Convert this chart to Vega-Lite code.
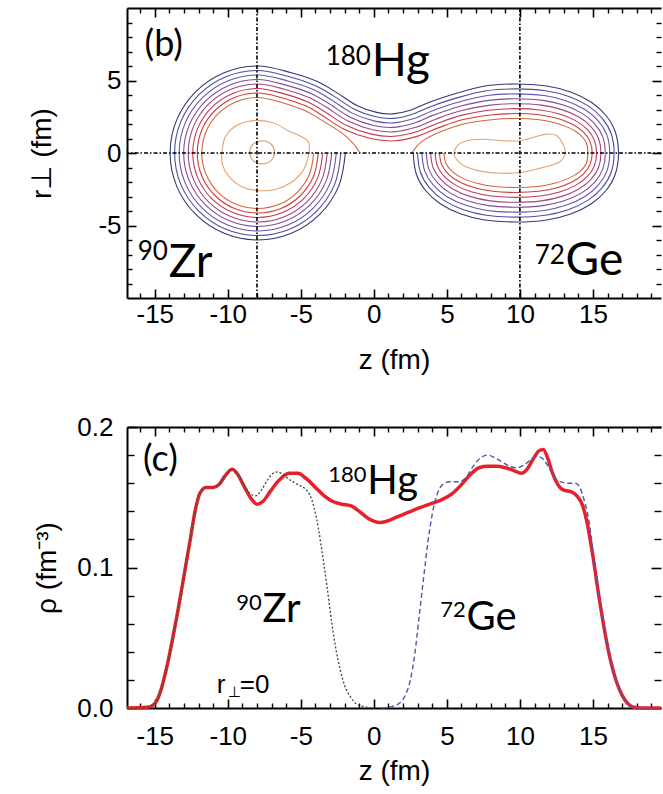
{
"$schema": "https://vega.github.io/schema/vega-lite/v6.json",
"padding": {"left": 28, "top": 7, "right": 2, "bottom": 2},
"bounds": "flush",
"spacing": 129,
"config": {"view": {"stroke": null}},
"datasets": {
"contours": [
{"id":"c0","k":0,"z":-1.95,"r":0},{"id":"c0","k":0,"z":-2.41,"r":-2.30},{"id":"c0","k":0,"z":-3.71,"r":-4.24},{"id":"c0","k":0,"z":-5.65,"r":-5.54},{"id":"c0","k":0,"z":-7.95,"r":-6.0},{"id":"c0","k":0,"z":-10.25,"r":-5.54},{"id":"c0","k":0,"z":-12.19,"r":-4.24},{"id":"c0","k":0,"z":-13.49,"r":-2.30},{"id":"c0","k":0,"z":-13.95,"r":0},
{"id":"c0","k":0,"z":-13.49,"r":2.30},{"id":"c0","k":0,"z":-12.19,"r":4.24},{"id":"c0","k":0,"z":-10.25,"r":5.54},{"id":"c0","k":0,"z":-7.95,"r":6.0},{"id":"c0","k":0,"z":-5.65,"r":5.54},
{"id":"c0","k":0,"z":-3.9,"r":4.95},{"id":"c0","k":0,"z":-2.6,"r":4.2},{"id":"c0","k":0,"z":-1.2,"r":3.3},{"id":"c0","k":0,"z":0.2,"r":2.8},{"id":"c0","k":0,"z":1.3,"r":2.7},{"id":"c0","k":0,"z":2.5,"r":2.95},{"id":"c0","k":0,"z":3.8,"r":3.5},{"id":"c0","k":0,"z":5.6,"r":4.1},
{"id":"c0","k":0,"z":7.60,"r":4.62},{"id":"c0","k":0,"z":9.72,"r":4.76},{"id":"c0","k":0,"z":11.84,"r":4.62},{"id":"c0","k":0,"z":13.52,"r":4.19},{"id":"c0","k":0,"z":14.89,"r":3.50},{"id":"c0","k":0,"z":15.91,"r":2.57},{"id":"c0","k":0,"z":16.54,"r":1.43},{"id":"c0","k":0,"z":16.75,"r":0},
{"id":"c0","k":0,"z":16.54,"r":-1.43},{"id":"c0","k":0,"z":15.91,"r":-2.57},{"id":"c0","k":0,"z":14.89,"r":-3.50},{"id":"c0","k":0,"z":13.52,"r":-4.19},{"id":"c0","k":0,"z":11.84,"r":-4.62},{"id":"c0","k":0,"z":9.72,"r":-4.76},{"id":"c0","k":0,"z":7.60,"r":-4.62},{"id":"c0","k":0,"z":5.92,"r":-4.19},{"id":"c0","k":0,"z":4.55,"r":-3.50},{"id":"c0","k":0,"z":3.53,"r":-2.57},{"id":"c0","k":0,"z":2.90,"r":-1.43},{"id":"c0","k":0,"z":2.69,"r":0},

{"id":"c1","k":1,"z":-2.26,"r":0},{"id":"c1","k":1,"z":-2.69,"r":-2.18},{"id":"c1","k":1,"z":-3.93,"r":-4.02},{"id":"c1","k":1,"z":-5.77,"r":-5.26},{"id":"c1","k":1,"z":-7.95,"r":-5.69},{"id":"c1","k":1,"z":-10.13,"r":-5.26},{"id":"c1","k":1,"z":-11.97,"r":-4.02},{"id":"c1","k":1,"z":-13.21,"r":-2.18},{"id":"c1","k":1,"z":-13.64,"r":0},
{"id":"c1","k":1,"z":-13.21,"r":2.18},{"id":"c1","k":1,"z":-11.97,"r":4.02},{"id":"c1","k":1,"z":-10.13,"r":5.26},{"id":"c1","k":1,"z":-7.95,"r":5.69},{"id":"c1","k":1,"z":-5.77,"r":5.26},
{"id":"c1","k":1,"z":-4.02,"r":4.66},{"id":"c1","k":1,"z":-2.76,"r":3.94},{"id":"c1","k":1,"z":-1.34,"r":3.02},{"id":"c1","k":1,"z":0.13,"r":2.50},{"id":"c1","k":1,"z":1.32,"r":2.39},{"id":"c1","k":1,"z":2.59,"r":2.66},{"id":"c1","k":1,"z":3.91,"r":3.21},{"id":"c1","k":1,"z":5.69,"r":3.80},
{"id":"c1","k":1,"z":7.69,"r":4.29},{"id":"c1","k":1,"z":9.72,"r":4.42},{"id":"c1","k":1,"z":11.75,"r":4.29},{"id":"c1","k":1,"z":13.35,"r":3.89},{"id":"c1","k":1,"z":14.67,"r":3.25},{"id":"c1","k":1,"z":15.64,"r":2.39},{"id":"c1","k":1,"z":16.25,"r":1.33},{"id":"c1","k":1,"z":16.45,"r":0},
{"id":"c1","k":1,"z":16.25,"r":-1.33},{"id":"c1","k":1,"z":15.64,"r":-2.39},{"id":"c1","k":1,"z":14.67,"r":-3.25},{"id":"c1","k":1,"z":13.35,"r":-3.89},{"id":"c1","k":1,"z":11.75,"r":-4.29},{"id":"c1","k":1,"z":9.72,"r":-4.42},{"id":"c1","k":1,"z":7.69,"r":-4.29},{"id":"c1","k":1,"z":6.09,"r":-3.89},{"id":"c1","k":1,"z":4.77,"r":-3.25},{"id":"c1","k":1,"z":3.80,"r":-2.39},{"id":"c1","k":1,"z":3.19,"r":-1.33},{"id":"c1","k":1,"z":2.99,"r":0},

{"id":"c2","k":2,"z":-2.57,"r":0},{"id":"c2","k":2,"z":-2.98,"r":-2.06},{"id":"c2","k":2,"z":-4.15,"r":-3.80},{"id":"c2","k":2,"z":-5.89,"r":-4.97},{"id":"c2","k":2,"z":-7.95,"r":-5.38},{"id":"c2","k":2,"z":-10.01,"r":-4.97},{"id":"c2","k":2,"z":-11.75,"r":-3.80},{"id":"c2","k":2,"z":-12.92,"r":-2.06},{"id":"c2","k":2,"z":-13.33,"r":0},
{"id":"c2","k":2,"z":-12.92,"r":2.06},{"id":"c2","k":2,"z":-11.75,"r":3.80},{"id":"c2","k":2,"z":-10.01,"r":4.97},{"id":"c2","k":2,"z":-7.95,"r":5.38},{"id":"c2","k":2,"z":-5.89,"r":4.97},
{"id":"c2","k":2,"z":-4.15,"r":4.38},{"id":"c2","k":2,"z":-2.92,"r":3.67},{"id":"c2","k":2,"z":-1.48,"r":2.75},{"id":"c2","k":2,"z":0.06,"r":2.20},{"id":"c2","k":2,"z":1.34,"r":2.08},{"id":"c2","k":2,"z":2.69,"r":2.36},{"id":"c2","k":2,"z":4.02,"r":2.92},{"id":"c2","k":2,"z":5.77,"r":3.50},
{"id":"c2","k":2,"z":7.78,"r":3.96},{"id":"c2","k":2,"z":9.72,"r":4.08},{"id":"c2","k":2,"z":11.66,"r":3.96},{"id":"c2","k":2,"z":13.19,"r":3.59},{"id":"c2","k":2,"z":14.45,"r":3.00},{"id":"c2","k":2,"z":15.38,"r":2.20},{"id":"c2","k":2,"z":15.96,"r":1.23},{"id":"c2","k":2,"z":16.15,"r":0},
{"id":"c2","k":2,"z":15.96,"r":-1.23},{"id":"c2","k":2,"z":15.38,"r":-2.20},{"id":"c2","k":2,"z":14.45,"r":-3.00},{"id":"c2","k":2,"z":13.19,"r":-3.59},{"id":"c2","k":2,"z":11.66,"r":-3.96},{"id":"c2","k":2,"z":9.72,"r":-4.08},{"id":"c2","k":2,"z":7.78,"r":-3.96},{"id":"c2","k":2,"z":6.25,"r":-3.59},{"id":"c2","k":2,"z":4.99,"r":-3.00},{"id":"c2","k":2,"z":4.06,"r":-2.20},{"id":"c2","k":2,"z":3.48,"r":-1.23},{"id":"c2","k":2,"z":3.29,"r":0},

{"id":"c3","k":3,"z":-2.88,"r":0},{"id":"c3","k":3,"z":-3.27,"r":-1.94},{"id":"c3","k":3,"z":-4.37,"r":-3.58},{"id":"c3","k":3,"z":-6.01,"r":-4.68},{"id":"c3","k":3,"z":-7.95,"r":-5.07},{"id":"c3","k":3,"z":-9.89,"r":-4.68},{"id":"c3","k":3,"z":-11.53,"r":-3.58},{"id":"c3","k":3,"z":-12.63,"r":-1.94},{"id":"c3","k":3,"z":-13.02,"r":0},
{"id":"c3","k":3,"z":-12.63,"r":1.94},{"id":"c3","k":3,"z":-11.53,"r":3.58},{"id":"c3","k":3,"z":-9.89,"r":4.68},{"id":"c3","k":3,"z":-7.95,"r":5.07},{"id":"c3","k":3,"z":-6.01,"r":4.68},
{"id":"c3","k":3,"z":-4.27,"r":4.09},{"id":"c3","k":3,"z":-3.08,"r":3.41},{"id":"c3","k":3,"z":-1.62,"r":2.47},{"id":"c3","k":3,"z":-0.01,"r":1.90},{"id":"c3","k":3,"z":1.36,"r":1.77},{"id":"c3","k":3,"z":2.78,"r":2.07},{"id":"c3","k":3,"z":4.13,"r":2.63},{"id":"c3","k":3,"z":5.86,"r":3.21},
{"id":"c3","k":3,"z":7.87,"r":3.63},{"id":"c3","k":3,"z":9.72,"r":3.74},{"id":"c3","k":3,"z":11.57,"r":3.63},{"id":"c3","k":3,"z":13.03,"r":3.29},{"id":"c3","k":3,"z":14.23,"r":2.75},{"id":"c3","k":3,"z":15.11,"r":2.02},{"id":"c3","k":3,"z":15.67,"r":1.13},{"id":"c3","k":3,"z":15.85,"r":0},
{"id":"c3","k":3,"z":15.67,"r":-1.13},{"id":"c3","k":3,"z":15.11,"r":-2.02},{"id":"c3","k":3,"z":14.23,"r":-2.75},{"id":"c3","k":3,"z":13.03,"r":-3.29},{"id":"c3","k":3,"z":11.57,"r":-3.63},{"id":"c3","k":3,"z":9.72,"r":-3.74},{"id":"c3","k":3,"z":7.87,"r":-3.63},{"id":"c3","k":3,"z":6.41,"r":-3.29},{"id":"c3","k":3,"z":5.21,"r":-2.75},{"id":"c3","k":3,"z":4.33,"r":-2.02},{"id":"c3","k":3,"z":3.77,"r":-1.13},{"id":"c3","k":3,"z":3.59,"r":0},

{"id":"c4","k":4,"z":-3.19,"r":0},{"id":"c4","k":4,"z":-3.55,"r":-1.82},{"id":"c4","k":4,"z":-4.58,"r":-3.37},{"id":"c4","k":4,"z":-6.13,"r":-4.40},{"id":"c4","k":4,"z":-7.95,"r":-4.76},{"id":"c4","k":4,"z":-9.77,"r":-4.40},{"id":"c4","k":4,"z":-11.32,"r":-3.37},{"id":"c4","k":4,"z":-12.35,"r":-1.82},{"id":"c4","k":4,"z":-12.71,"r":0},
{"id":"c4","k":4,"z":-12.35,"r":1.82},{"id":"c4","k":4,"z":-11.32,"r":3.37},{"id":"c4","k":4,"z":-9.77,"r":4.40},{"id":"c4","k":4,"z":-7.95,"r":4.76},{"id":"c4","k":4,"z":-6.13,"r":4.40},
{"id":"c4","k":4,"z":-4.40,"r":3.81},{"id":"c4","k":4,"z":-3.24,"r":3.15},{"id":"c4","k":4,"z":-1.76,"r":2.20},{"id":"c4","k":4,"z":-0.09,"r":1.60},{"id":"c4","k":4,"z":1.38,"r":1.46},{"id":"c4","k":4,"z":2.87,"r":1.77},{"id":"c4","k":4,"z":4.23,"r":2.33},{"id":"c4","k":4,"z":5.95,"r":2.91},
{"id":"c4","k":4,"z":7.97,"r":3.30},{"id":"c4","k":4,"z":9.72,"r":3.40},{"id":"c4","k":4,"z":11.47,"r":3.30},{"id":"c4","k":4,"z":12.87,"r":2.99},{"id":"c4","k":4,"z":14.01,"r":2.50},{"id":"c4","k":4,"z":14.85,"r":1.84},{"id":"c4","k":4,"z":15.38,"r":1.02},{"id":"c4","k":4,"z":15.55,"r":0},
{"id":"c4","k":4,"z":15.38,"r":-1.02},{"id":"c4","k":4,"z":14.85,"r":-1.84},{"id":"c4","k":4,"z":14.01,"r":-2.50},{"id":"c4","k":4,"z":12.87,"r":-2.99},{"id":"c4","k":4,"z":11.47,"r":-3.30},{"id":"c4","k":4,"z":9.72,"r":-3.40},{"id":"c4","k":4,"z":7.97,"r":-3.30},{"id":"c4","k":4,"z":6.57,"r":-2.99},{"id":"c4","k":4,"z":5.43,"r":-2.50},{"id":"c4","k":4,"z":4.59,"r":-1.84},{"id":"c4","k":4,"z":4.06,"r":-1.02},{"id":"c4","k":4,"z":3.89,"r":0},

{"id":"c5","k":5,"z":-3.50,"r":0},{"id":"c5","k":5,"z":-3.84,"r":-1.70},{"id":"c5","k":5,"z":-4.80,"r":-3.15},{"id":"c5","k":5,"z":-6.25,"r":-4.11},{"id":"c5","k":5,"z":-7.95,"r":-4.45},{"id":"c5","k":5,"z":-9.65,"r":-4.11},{"id":"c5","k":5,"z":-11.10,"r":-3.15},{"id":"c5","k":5,"z":-12.06,"r":-1.70},{"id":"c5","k":5,"z":-12.40,"r":0},
{"id":"c5","k":5,"z":-12.06,"r":1.70},{"id":"c5","k":5,"z":-11.10,"r":3.15},{"id":"c5","k":5,"z":-9.65,"r":4.11},{"id":"c5","k":5,"z":-7.95,"r":4.45},{"id":"c5","k":5,"z":-6.25,"r":4.11},
{"id":"c5","k":5,"z":-4.52,"r":3.52},{"id":"c5","k":5,"z":-3.41,"r":2.88},{"id":"c5","k":5,"z":-1.90,"r":1.92},{"id":"c5","k":5,"z":-0.16,"r":1.30},{"id":"c5","k":5,"z":1.40,"r":1.15},{"id":"c5","k":5,"z":2.97,"r":1.48},{"id":"c5","k":5,"z":4.34,"r":2.04},{"id":"c5","k":5,"z":6.03,"r":2.61},
{"id":"c5","k":5,"z":8.06,"r":2.97},{"id":"c5","k":5,"z":9.72,"r":3.06},{"id":"c5","k":5,"z":11.38,"r":2.97},{"id":"c5","k":5,"z":12.71,"r":2.69},{"id":"c5","k":5,"z":13.78,"r":2.25},{"id":"c5","k":5,"z":14.59,"r":1.65},{"id":"c5","k":5,"z":15.08,"r":0.92},{"id":"c5","k":5,"z":15.25,"r":0},
{"id":"c5","k":5,"z":15.08,"r":-0.92},{"id":"c5","k":5,"z":14.59,"r":-1.65},{"id":"c5","k":5,"z":13.78,"r":-2.25},{"id":"c5","k":5,"z":12.71,"r":-2.69},{"id":"c5","k":5,"z":11.38,"r":-2.97},{"id":"c5","k":5,"z":9.72,"r":-3.06},{"id":"c5","k":5,"z":8.06,"r":-2.97},{"id":"c5","k":5,"z":6.73,"r":-2.69},{"id":"c5","k":5,"z":5.66,"r":-2.25},{"id":"c5","k":5,"z":4.85,"r":-1.65},{"id":"c5","k":5,"z":4.36,"r":-0.92},{"id":"c5","k":5,"z":4.19,"r":0},

{"id":"c6","k":6,"z":-3.81,"r":0},{"id":"c6","k":6,"z":-4.12,"r":-1.59},{"id":"c6","k":6,"z":-5.02,"r":-2.93},{"id":"c6","k":6,"z":-6.36,"r":-3.83},{"id":"c6","k":6,"z":-7.95,"r":-4.14},{"id":"c6","k":6,"z":-9.54,"r":-3.83},{"id":"c6","k":6,"z":-10.88,"r":-2.93},{"id":"c6","k":6,"z":-11.78,"r":-1.59},{"id":"c6","k":6,"z":-12.09,"r":0},
{"id":"c6","k":6,"z":-11.78,"r":1.59},{"id":"c6","k":6,"z":-10.88,"r":2.93},{"id":"c6","k":6,"z":-9.54,"r":3.83},{"id":"c6","k":6,"z":-7.95,"r":4.14},{"id":"c6","k":6,"z":-6.36,"r":3.83},
{"id":"c6","k":6,"z":-4.64,"r":3.24},{"id":"c6","k":6,"z":-3.57,"r":2.62},{"id":"c6","k":6,"z":-2.04,"r":1.64},{"id":"c6","k":6,"z":-0.23,"r":1.00},{"id":"c6","k":6,"z":1.42,"r":0.84},{"id":"c6","k":6,"z":3.06,"r":1.18},{"id":"c6","k":6,"z":4.45,"r":1.75},{"id":"c6","k":6,"z":6.12,"r":2.31},
{"id":"c6","k":6,"z":8.15,"r":2.64},{"id":"c6","k":6,"z":9.72,"r":2.72},{"id":"c6","k":6,"z":11.29,"r":2.64},{"id":"c6","k":6,"z":12.54,"r":2.39},{"id":"c6","k":6,"z":13.56,"r":2.00},{"id":"c6","k":6,"z":14.32,"r":1.47},{"id":"c6","k":6,"z":14.79,"r":0.82},{"id":"c6","k":6,"z":14.95,"r":0},
{"id":"c6","k":6,"z":14.79,"r":-0.82},{"id":"c6","k":6,"z":14.32,"r":-1.47},{"id":"c6","k":6,"z":13.56,"r":-2.00},{"id":"c6","k":6,"z":12.54,"r":-2.39},{"id":"c6","k":6,"z":11.29,"r":-2.64},{"id":"c6","k":6,"z":9.72,"r":-2.72},{"id":"c6","k":6,"z":8.15,"r":-2.64},{"id":"c6","k":6,"z":6.90,"r":-2.39},{"id":"c6","k":6,"z":5.88,"r":-2.00},{"id":"c6","k":6,"z":5.12,"r":-1.47},{"id":"c6","k":6,"z":4.65,"r":-0.82},{"id":"c6","k":6,"z":4.49,"r":0},

{"id":"c7a","k":7,"z":-4.12,"r":0},{"id":"c7a","k":7,"z":-4.41,"r":-1.47},{"id":"c7a","k":7,"z":-5.24,"r":-2.71},{"id":"c7a","k":7,"z":-6.48,"r":-3.54},{"id":"c7a","k":7,"z":-7.95,"r":-3.83},{"id":"c7a","k":7,"z":-9.42,"r":-3.54},{"id":"c7a","k":7,"z":-10.66,"r":-2.71},{"id":"c7a","k":7,"z":-11.49,"r":-1.47},{"id":"c7a","k":7,"z":-11.78,"r":0},
{"id":"c7a","k":7,"z":-11.49,"r":1.47},{"id":"c7a","k":7,"z":-10.66,"r":2.71},{"id":"c7a","k":7,"z":-9.42,"r":3.54},{"id":"c7a","k":7,"z":-7.95,"r":3.83},{"id":"c7a","k":7,"z":-6.48,"r":3.54},
{"id":"c7a","k":7,"z":-4.77,"r":2.95},{"id":"c7a","k":7,"z":-3.73,"r":2.36},{"id":"c7a","k":7,"z":-2.18,"r":1.37},{"id":"c7a","k":7,"z":-1.45,"r":0.7},{"id":"c7a","k":7,"z":-0.95,"r":0},

{"id":"c7b","k":7,"z":2.6,"r":0},{"id":"c7b","k":7,"z":3.3,"r":0.8},{"id":"c7b","k":7,"z":4.56,"r":1.46},{"id":"c7b","k":7,"z":6.21,"r":2.02},{"id":"c7b","k":7,"z":8.24,"r":2.31},{"id":"c7b","k":7,"z":9.72,"r":2.38},{"id":"c7b","k":7,"z":11.20,"r":2.31},{"id":"c7b","k":7,"z":12.38,"r":2.09},{"id":"c7b","k":7,"z":13.34,"r":1.75},{"id":"c7b","k":7,"z":14.10,"r":1.29},{"id":"c7b","k":7,"z":14.54,"r":0.72},{"id":"c7b","k":7,"z":14.65,"r":0},
{"id":"c7b","k":7,"z":14.54,"r":-0.72},{"id":"c7b","k":7,"z":14.10,"r":-1.29},{"id":"c7b","k":7,"z":13.34,"r":-1.75},{"id":"c7b","k":7,"z":12.38,"r":-2.09},{"id":"c7b","k":7,"z":11.20,"r":-2.31},{"id":"c7b","k":7,"z":9.72,"r":-2.38},{"id":"c7b","k":7,"z":8.24,"r":-2.31},{"id":"c7b","k":7,"z":7.06,"r":-2.09},{"id":"c7b","k":7,"z":6.10,"r":-1.75},{"id":"c7b","k":7,"z":5.38,"r":-1.29},{"id":"c7b","k":7,"z":4.94,"r":-0.72},{"id":"c7b","k":7,"z":4.79,"r":0}
],
"loops": [
{"id":"oz","k":8,"z":-10.4,"r":0},{"id":"oz","k":8,"z":-10.15,"r":1.15},{"id":"oz","k":8,"z":-9.3,"r":1.95},{"id":"oz","k":8,"z":-8.0,"r":2.25},{"id":"oz","k":8,"z":-6.8,"r":2.05},{"id":"oz","k":8,"z":-5.9,"r":1.55},{"id":"oz","k":8,"z":-5.0,"r":1.15},{"id":"oz","k":8,"z":-4.45,"r":0.7},{"id":"oz","k":8,"z":-4.5,"r":-0.3},{"id":"oz","k":8,"z":-4.9,"r":-1.3},{"id":"oz","k":8,"z":-5.7,"r":-2.05},{"id":"oz","k":8,"z":-6.7,"r":-2.5},{"id":"oz","k":8,"z":-7.8,"r":-2.6},{"id":"oz","k":8,"z":-9.0,"r":-2.35},{"id":"oz","k":8,"z":-9.9,"r":-1.65},{"id":"oz","k":8,"z":-10.35,"r":-0.85},
{"id":"og","k":8,"z":5.5,"r":-0.1},{"id":"og","k":8,"z":5.75,"r":0.55},{"id":"og","k":8,"z":6.4,"r":0.85},{"id":"og","k":8,"z":7.5,"r":0.95},{"id":"og","k":8,"z":8.8,"r":0.85},{"id":"og","k":8,"z":10.0,"r":0.85},{"id":"og","k":8,"z":11.0,"r":1.1},{"id":"og","k":8,"z":11.8,"r":1.3},{"id":"og","k":8,"z":12.5,"r":1.2},{"id":"og","k":8,"z":12.9,"r":0.7},{"id":"og","k":8,"z":13.1,"r":0.1},{"id":"og","k":8,"z":12.9,"r":-0.45},{"id":"og","k":8,"z":12.3,"r":-0.8},{"id":"og","k":8,"z":11.2,"r":-1.1},{"id":"og","k":8,"z":10.0,"r":-1.35},{"id":"og","k":8,"z":8.6,"r":-1.4},{"id":"og","k":8,"z":7.3,"r":-1.25},{"id":"og","k":8,"z":6.3,"r":-0.95},{"id":"og","k":8,"z":5.8,"r":-0.6},
{"id":"os","k":9,"z":-8.5,"r":0.05},{"id":"os","k":9,"z":-8.25,"r":0.62},{"id":"os","k":9,"z":-7.65,"r":0.85},{"id":"os","k":9,"z":-7.05,"r":0.62},{"id":"os","k":9,"z":-6.8,"r":0.05},{"id":"os","k":9,"z":-7.05,"r":-0.52},{"id":"os","k":9,"z":-7.65,"r":-0.75},{"id":"os","k":9,"z":-8.25,"r":-0.52}
],
"hg": [
{"z":-16.9,"rho":0},{"z":-15.5,"rho":0.0005},{"z":-15.0,"rho":0.003},{"z":-14.6,"rho":0.012},{"z":-14.2,"rho":0.028},{"z":-13.8,"rho":0.048},{"z":-13.4,"rho":0.07},{"z":-13.0,"rho":0.094},{"z":-12.6,"rho":0.118},{"z":-12.2,"rho":0.142},{"z":-11.9,"rho":0.153},{"z":-11.5,"rho":0.157},{"z":-11.0,"rho":0.157},{"z":-10.6,"rho":0.159},{"z":-10.2,"rho":0.165},{"z":-9.7,"rho":0.170},{"z":-9.3,"rho":0.166},{"z":-8.9,"rho":0.158},{"z":-8.4,"rho":0.149},{"z":-8.0,"rho":0.145},{"z":-7.6,"rho":0.147},{"z":-7.1,"rho":0.154},{"z":-6.5,"rho":0.162},{"z":-5.8,"rho":0.167},{"z":-5.2,"rho":0.167},{"z":-4.6,"rho":0.163},{"z":-4.0,"rho":0.157},{"z":-3.4,"rho":0.151},{"z":-2.8,"rho":0.147},{"z":-2.2,"rho":0.145},{"z":-1.6,"rho":0.144},{"z":-1.0,"rho":0.140},{"z":-0.4,"rho":0.135},{"z":0.4,"rho":0.132},{"z":0.9,"rho":0.133},{"z":1.6,"rho":0.136},{"z":2.3,"rho":0.139},{"z":3.0,"rho":0.142},{"z":3.8,"rho":0.145},{"z":4.6,"rho":0.148},{"z":5.3,"rho":0.152},{"z":6.0,"rho":0.159},{"z":6.6,"rho":0.166},{"z":7.2,"rho":0.171},{"z":7.8,"rho":0.172},{"z":8.4,"rho":0.172},{"z":9.0,"rho":0.171},{"z":9.6,"rho":0.169},{"z":10.1,"rho":0.167},{"z":10.5,"rho":0.170},{"z":10.9,"rho":0.177},{"z":11.3,"rho":0.183},{"z":11.6,"rho":0.184},{"z":11.9,"rho":0.178},{"z":12.2,"rho":0.168},{"z":12.6,"rho":0.159},{"z":13.0,"rho":0.155},{"z":13.5,"rho":0.154},{"z":13.9,"rho":0.151},{"z":14.3,"rho":0.144},{"z":14.6,"rho":0.132},{"z":15.0,"rho":0.108},{"z":15.4,"rho":0.080},{"z":15.8,"rho":0.055},{"z":16.2,"rho":0.034},{"z":16.6,"rho":0.019},{"z":17.0,"rho":0.009},{"z":17.4,"rho":0.003},{"z":17.8,"rho":0.0005},{"z":18.3,"rho":0},{"z":19.66,"rho":0}
],
"zr": [
{"z":-16.9,"rho":0},{"z":-15.5,"rho":0.0005},{"z":-15.0,"rho":0.003},{"z":-14.6,"rho":0.012},{"z":-14.2,"rho":0.028},{"z":-13.8,"rho":0.048},{"z":-13.4,"rho":0.07},{"z":-13.0,"rho":0.094},{"z":-12.6,"rho":0.118},{"z":-12.2,"rho":0.142},{"z":-11.9,"rho":0.153},{"z":-11.5,"rho":0.157},{"z":-11.0,"rho":0.157},{"z":-10.6,"rho":0.159},{"z":-10.2,"rho":0.165},{"z":-9.7,"rho":0.170},{"z":-9.3,"rho":0.166},{"z":-8.9,"rho":0.159},{"z":-8.5,"rho":0.153},{"z":-8.1,"rho":0.151},{"z":-7.7,"rho":0.155},{"z":-7.3,"rho":0.162},{"z":-6.9,"rho":0.167},{"z":-6.6,"rho":0.168},{"z":-6.2,"rho":0.166},{"z":-5.7,"rho":0.162},{"z":-5.2,"rho":0.159},{"z":-4.7,"rho":0.156},{"z":-4.4,"rho":0.152},{"z":-4.1,"rho":0.143},{"z":-3.8,"rho":0.128},{"z":-3.5,"rho":0.108},{"z":-3.2,"rho":0.086},{"z":-2.9,"rho":0.062},{"z":-2.6,"rho":0.042},{"z":-2.3,"rho":0.027},{"z":-2.0,"rho":0.016},{"z":-1.6,"rho":0.008},{"z":-1.2,"rho":0.003},{"z":-0.7,"rho":0.001},{"z":0.0,"rho":0}
],
"ge": [
{"z":0.5,"rho":0},{"z":1.2,"rho":0.001},{"z":1.7,"rho":0.003},{"z":2.1,"rho":0.008},{"z":2.5,"rho":0.02},{"z":2.8,"rho":0.038},{"z":3.1,"rho":0.065},{"z":3.4,"rho":0.092},{"z":3.7,"rho":0.118},{"z":4.0,"rho":0.138},{"z":4.3,"rho":0.151},{"z":4.7,"rho":0.159},{"z":5.2,"rho":0.161},{"z":5.8,"rho":0.161},{"z":6.3,"rho":0.164},{"z":6.8,"rho":0.172},{"z":7.3,"rho":0.178},{"z":7.8,"rho":0.180},{"z":8.3,"rho":0.178},{"z":8.8,"rho":0.175},{"z":9.3,"rho":0.172},{"z":9.8,"rho":0.171},{"z":10.3,"rho":0.173},{"z":10.8,"rho":0.177},{"z":11.2,"rho":0.179},{"z":11.6,"rho":0.177},{"z":12.0,"rho":0.171},{"z":12.4,"rho":0.164},{"z":12.8,"rho":0.161},{"z":13.3,"rho":0.160},{"z":13.8,"rho":0.160},{"z":14.1,"rho":0.157},{"z":14.4,"rho":0.148},{"z":14.7,"rho":0.135},{"z":15.0,"rho":0.112},{"z":15.4,"rho":0.082},{"z":15.8,"rho":0.056},{"z":16.2,"rho":0.034},{"z":16.6,"rho":0.019},{"z":17.0,"rho":0.009},{"z":17.4,"rho":0.003},{"z":17.8,"rho":0.0005},{"z":18.3,"rho":0},{"z":19.66,"rho":0}
]
},
"vconcat": [
{
"width": 534, "height": 290,
"resolve": {"axis": {"x": "independent", "y": "independent"}},
"layer": [
{"data": {"name": "contours"},
 "mark": {"type": "line", "interpolate": "cardinal", "strokeWidth": 1.1},
 "encoding": {
  "x": {"field": "z", "type": "quantitative", "scale": {"domain": [-16.9, 19.66], "nice": false, "zero": false},
        "axis": {"orient": "bottom", "values": [-15,-10,-5,0,5,10,15], "labelExpr": "'' + datum.value", "tickSize": -9, "tickWidth": 1.6, "tickColor": "black", "domain": true, "domainWidth": 2, "domainColor": "black", "labelFont": "Liberation Sans", "labelFontSize": 26, "labelColor": "black", "labelPadding": 12, "labelOverlap": false, "title": "z (fm)", "titleFont": "Liberation Sans", "titleFontSize": 28, "titleFontWeight": "normal", "titleColor": "black", "titlePadding": 19, "grid": false}},
  "y": {"field": "r", "type": "quantitative", "scale": {"domain": [-10, 10], "nice": false, "zero": false},
        "axis": {"orient": "left", "values": [-5,0,5], "labelExpr": "'' + datum.value", "tickSize": -9, "tickWidth": 1.6, "tickColor": "black", "domain": true, "domainWidth": 2, "domainColor": "black", "labelFont": "Liberation Sans", "labelFontSize": 26, "labelColor": "black", "labelPadding": 15, "labelOverlap": false, "title": "r⊥ (fm)", "titleFont": "Liberation Sans", "titleFontSize": 28, "titleFontWeight": "normal", "titleColor": "black", "titlePadding": 41, "grid": false}},
  "color": {"field": "k", "type": "ordinal", "scale": {"domain": [0,1,2,3,4,5,6,7,8,9], "range": ["#343a72","#4a4f9c","#6558aa","#7b4f98","#a0487a","#bf3a55","#cc3c40","#d4653f","#e3a373","#dc9966"]}, "legend": null},
  "detail": {"field": "id"},
  "order": {"value": null}
 }},
{"data": {"name": "loops"},
 "mark": {"type": "line", "interpolate": "cardinal-closed", "strokeWidth": 1.1},
 "encoding": {
  "x": {"field": "z", "type": "quantitative", "axis": {"orient": "top", "values": [-15,-10,-5,0,5,10,15], "tickSize": -9, "tickWidth": 1.6, "tickColor": "black", "labels": false, "domain": true, "domainWidth": 2, "domainColor": "black", "title": null, "grid": false}},
  "y": {"field": "r", "type": "quantitative", "axis": {"orient": "right", "values": [-5,0,5], "tickSize": -9, "tickWidth": 1.6, "tickColor": "black", "labels": false, "domain": false, "title": null, "grid": false}},
  "color": {"field": "k", "type": "ordinal", "legend": null},
  "detail": {"field": "id"},
  "order": {"value": null}
 }},
{"data": {"values": [{"z": -8}, {"z": 10}]},
 "mark": {"type": "rule", "color": "black", "strokeWidth": 1.6, "strokeDash": [4, 2, 1.5, 2]},
 "encoding": {
  "x": {"field": "z", "type": "quantitative", "axis": {"orient": "bottom", "values": [-16,-14,-13,-12,-11,-9,-8,-7,-6,-4,-3,-2,-1,1,2,3,4,6,7,8,9,11,12,13,14,16,17,18,19], "tickSize": -5, "tickWidth": 1.4, "tickColor": "black", "labels": false, "domain": false, "title": null, "grid": false}}
 }},
{"data": {"values": [{"r": 0}]},
 "mark": {"type": "rule", "color": "black", "strokeWidth": 1.6, "strokeDash": [4, 2, 1.5, 2]},
 "encoding": {
  "y": {"field": "r", "type": "quantitative", "axis": {"orient": "left", "values": [-9,-8,-7,-6,-4,-3,-2,-1,1,2,3,4,6,7,8,9], "tickSize": -5, "tickWidth": 1.4, "tickColor": "black", "labels": false, "domain": false, "title": null, "grid": false}}
 }},
{"data": {"values": [{}]},
 "mark": {"type": "text", "text": "(b)", "font": "Lato", "fontSize": 36, "align": "left", "baseline": "middle", "color": "black"},
 "encoding": {
  "x": {"datum": -15.7, "type": "quantitative", "axis": {"orient": "top", "values": [-16,-14,-13,-12,-11,-9,-8,-7,-6,-4,-3,-2,-1,1,2,3,4,6,7,8,9,11,12,13,14,16,17,18,19], "tickSize": -5, "tickWidth": 1.4, "tickColor": "black", "labels": false, "domain": false, "title": null, "grid": false}},
  "y": {"datum": 7.45, "type": "quantitative", "axis": {"orient": "right", "values": [-9,-8,-7,-6,-4,-3,-2,-1,1,2,3,4,6,7,8,9], "tickSize": -5, "tickWidth": 1.4, "tickColor": "black", "labels": false, "domain": false, "title": null, "grid": false}}
 }},
{"data": {"values": [{}]}, "mark": {"type": "text", "text": "180", "font": "Lato", "fontSize": 26, "align": "right", "baseline": "alphabetic", "color": "black"},
 "encoding": {"x": {"datum": -0.2, "type": "quantitative", "axis": null}, "y": {"datum": 6.07, "type": "quantitative", "axis": null}}},
{"data": {"values": [{}]}, "mark": {"type": "text", "text": "Hg", "font": "Lato", "fontSize": 46, "align": "left", "baseline": "alphabetic", "color": "black"},
 "encoding": {"x": {"datum": -0.15, "type": "quantitative", "axis": null}, "y": {"datum": 5.31, "type": "quantitative", "axis": null}}},
{"data": {"values": [{}]}, "mark": {"type": "text", "text": "90", "font": "Lato", "fontSize": 26, "align": "right", "baseline": "alphabetic", "color": "black"},
 "encoding": {"x": {"datum": -14.1, "type": "quantitative", "axis": null}, "y": {"datum": -7.38, "type": "quantitative", "axis": null}}},
{"data": {"values": [{}]}, "mark": {"type": "text", "text": "Zr", "font": "Lato", "fontSize": 46, "align": "left", "baseline": "alphabetic", "color": "black"},
 "encoding": {"x": {"datum": -14.05, "type": "quantitative", "axis": null}, "y": {"datum": -8.55, "type": "quantitative", "axis": null}}},
{"data": {"values": [{}]}, "mark": {"type": "text", "text": "72", "font": "Lato", "fontSize": 26, "align": "right", "baseline": "alphabetic", "color": "black"},
 "encoding": {"x": {"datum": 13.08, "type": "quantitative", "axis": null}, "y": {"datum": -7.66, "type": "quantitative", "axis": null}}},
{"data": {"values": [{}]}, "mark": {"type": "text", "text": "Ge", "font": "Lato", "fontSize": 46, "align": "left", "baseline": "alphabetic", "color": "black"},
 "encoding": {"x": {"datum": 13.13, "type": "quantitative", "axis": null}, "y": {"datum": -8.41, "type": "quantitative", "axis": null}}}
]
},
{
"width": 534, "height": 281,
"resolve": {"axis": {"x": "independent", "y": "independent"}},
"layer": [
{"data": {"name": "hg"},
 "mark": {"type": "line", "interpolate": "monotone", "color": "#e8202a", "strokeWidth": 3.5},
 "encoding": {
  "x": {"field": "z", "type": "quantitative", "scale": {"domain": [-16.9, 19.66], "nice": false, "zero": false},
        "axis": {"orient": "bottom", "values": [-15,-10,-5,0,5,10,15], "labelExpr": "'' + datum.value", "tickSize": -9, "tickWidth": 1.6, "tickColor": "black", "domain": true, "domainWidth": 2, "domainColor": "black", "labelFont": "Liberation Sans", "labelFontSize": 26, "labelColor": "black", "labelPadding": 24, "labelOverlap": false, "title": "z (fm)", "titleFont": "Liberation Sans", "titleFontSize": 28, "titleFontWeight": "normal", "titleColor": "black", "titlePadding": 8, "grid": false}},
  "y": {"field": "rho", "type": "quantitative", "scale": {"domain": [0, 0.2], "nice": false, "zero": false},
        "axis": {"orient": "left", "values": [0, 0.1, 0.2], "format": ".1f", "tickSize": -10, "tickWidth": 1.6, "tickColor": "black", "domain": true, "domainWidth": 2, "domainColor": "black", "labelFont": "Liberation Sans", "labelFontSize": 26, "labelColor": "black", "labelPadding": 24, "labelOverlap": false, "title": "ρ (fm⁻³)", "titleFont": "Liberation Sans", "titleFontSize": 28, "titleFontWeight": "normal", "titleColor": "black", "titlePadding": 15, "grid": false}}
 }},
{"data": {"name": "zr"},
 "mark": {"type": "line", "interpolate": "monotone", "color": "#2f5d3c", "strokeWidth": 1.4, "strokeDash": [2, 2]},
 "encoding": {
  "x": {"field": "z", "type": "quantitative", "axis": {"orient": "top", "values": [-15,-10,-5,0,5,10,15], "tickSize": -9, "tickWidth": 1.6, "tickColor": "black", "labels": false, "domain": true, "domainWidth": 2, "domainColor": "black", "title": null, "grid": false}},
  "y": {"field": "rho", "type": "quantitative", "axis": {"orient": "right", "values": [0, 0.1, 0.2], "tickSize": -10, "tickWidth": 1.6, "tickColor": "black", "labels": false, "domain": false, "title": null, "grid": false}}
 }},
{"data": {"name": "ge"},
 "mark": {"type": "line", "interpolate": "monotone", "color": "#4c5ca6", "strokeWidth": 1.4, "strokeDash": [5, 3]},
 "encoding": {
  "x": {"field": "z", "type": "quantitative", "axis": {"orient": "bottom", "values": [-16,-14,-13,-12,-11,-9,-8,-7,-6,-4,-3,-2,-1,1,2,3,4,6,7,8,9,11,12,13,14,16,17,18,19], "tickSize": -5, "tickWidth": 1.4, "tickColor": "black", "labels": false, "domain": false, "title": null, "grid": false}},
  "y": {"field": "rho", "type": "quantitative", "axis": {"orient": "left", "values": [0.02,0.04,0.06,0.08,0.12,0.14,0.16,0.18], "tickSize": -7, "tickWidth": 1.4, "tickColor": "black", "labels": false, "domain": false, "title": null, "grid": false}}
 }},
{"data": {"values": [{}]},
 "mark": {"type": "text", "text": "(c)", "font": "Lato", "fontSize": 36, "align": "left", "baseline": "middle", "color": "black"},
 "encoding": {
  "x": {"datum": -15.8, "type": "quantitative", "axis": {"orient": "top", "values": [-16,-14,-13,-12,-11,-9,-8,-7,-6,-4,-3,-2,-1,1,2,3,4,6,7,8,9,11,12,13,14,16,17,18,19], "tickSize": -5, "tickWidth": 1.4, "tickColor": "black", "labels": false, "domain": false, "title": null, "grid": false}},
  "y": {"datum": 0.1765, "type": "quantitative", "axis": {"orient": "right", "values": [0.02,0.04,0.06,0.08,0.12,0.14,0.16,0.18], "tickSize": -7, "tickWidth": 1.4, "tickColor": "black", "labels": false, "domain": false, "title": null, "grid": false}}
 }},
{"data": {"values": [{}]}, "mark": {"type": "text", "text": "180", "font": "Lato", "fontSize": 22, "align": "right", "baseline": "alphabetic", "color": "black"},
 "encoding": {"x": {"datum": -0.5, "type": "quantitative", "axis": null}, "y": {"datum": 0.161, "type": "quantitative", "axis": null}}},
{"data": {"values": [{}]}, "mark": {"type": "text", "text": "Hg", "font": "Lato", "fontSize": 40, "align": "left", "baseline": "alphabetic", "color": "black"},
 "encoding": {"x": {"datum": -0.45, "type": "quantitative", "axis": null}, "y": {"datum": 0.152, "type": "quantitative", "axis": null}}},
{"data": {"values": [{}]}, "mark": {"type": "text", "text": "90", "font": "Lato", "fontSize": 22, "align": "right", "baseline": "alphabetic", "color": "black"},
 "encoding": {"x": {"datum": -7.67, "type": "quantitative", "axis": null}, "y": {"datum": 0.070, "type": "quantitative", "axis": null}}},
{"data": {"values": [{}]}, "mark": {"type": "text", "text": "Zr", "font": "Lato", "fontSize": 40, "align": "left", "baseline": "alphabetic", "color": "black"},
 "encoding": {"x": {"datum": -7.62, "type": "quantitative", "axis": null}, "y": {"datum": 0.061, "type": "quantitative", "axis": null}}},
{"data": {"values": [{}]}, "mark": {"type": "text", "text": "72", "font": "Lato", "fontSize": 22, "align": "right", "baseline": "alphabetic", "color": "black"},
 "encoding": {"x": {"datum": 6.3, "type": "quantitative", "axis": null}, "y": {"datum": 0.065, "type": "quantitative", "axis": null}}},
{"data": {"values": [{}]}, "mark": {"type": "text", "text": "Ge", "font": "Lato", "fontSize": 40, "align": "left", "baseline": "alphabetic", "color": "black"},
 "encoding": {"x": {"datum": 6.35, "type": "quantitative", "axis": null}, "y": {"datum": 0.0555, "type": "quantitative", "axis": null}}},
{"data": {"values": [{}]}, "mark": {"type": "text", "text": "r", "font": "Liberation Sans", "fontSize": 26, "align": "left", "baseline": "alphabetic", "color": "black"},
 "encoding": {"x": {"datum": -10.75, "type": "quantitative", "axis": null}, "y": {"datum": 0.011, "type": "quantitative", "axis": null}}},
{"data": {"values": [{}]}, "mark": {"type": "text", "text": "⊥", "font": "DejaVu Sans", "fontSize": 15, "align": "left", "baseline": "alphabetic", "color": "black"},
 "encoding": {"x": {"datum": -10.0, "type": "quantitative", "axis": null}, "y": {"datum": 0.0075, "type": "quantitative", "axis": null}}},
{"data": {"values": [{}]}, "mark": {"type": "text", "text": "=0", "font": "Liberation Sans", "fontSize": 26, "align": "left", "baseline": "alphabetic", "color": "black"},
 "encoding": {"x": {"datum": -9.18, "type": "quantitative", "axis": null}, "y": {"datum": 0.011, "type": "quantitative", "axis": null}}}
]
}
]
}
